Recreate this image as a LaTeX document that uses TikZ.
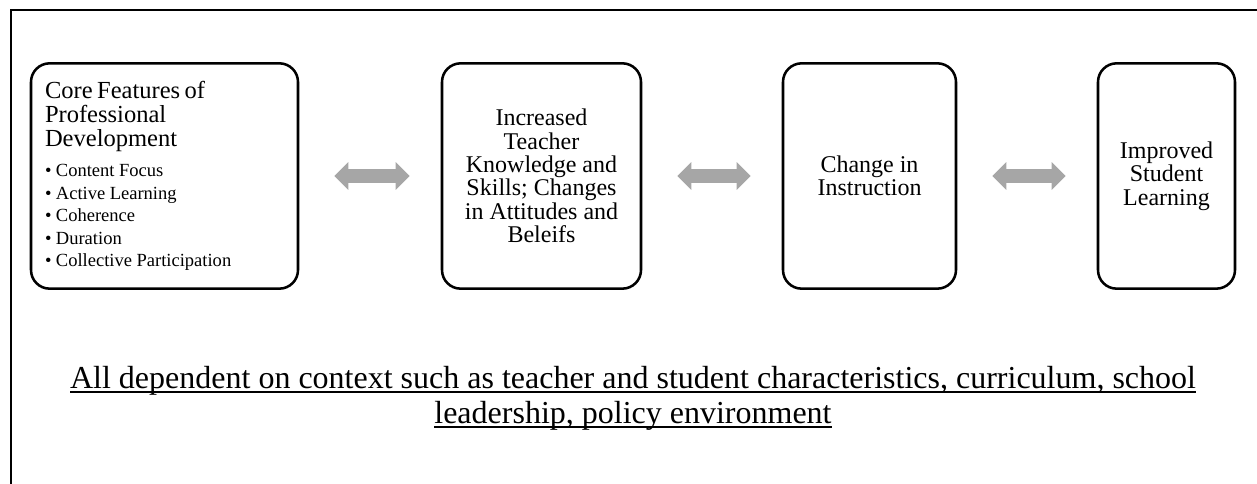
\documentclass[tikz,border=0pt]{standalone}
\usepackage{fontspec}
\setmainfont{Liberation Serif}
\usetikzlibrary{arrows.meta}
\definecolor{arrowgray}{HTML}{A6A6A6}
\newsavebox{\ulbox}
\newcommand{\ulline}[1]{\sbox{\ulbox}{#1}\rlap{\rule[-3.4pt]{\wd\ulbox}{1.6pt}}\usebox{\ulbox}}
\tikzset{
  box/.style={draw=black, line width=1.9pt, rounded corners=14pt, minimum height=169pt, inner sep=0pt},
  boxtext/.style={font=\fontsize{18}{17.5}\selectfont, align=center},
  dblarrow/.style={draw=arrowgray, line width=10.5pt,
    {Triangle[length=10.5pt,width=20.25pt]}-{Triangle[length=10.5pt,width=20.25pt]},
    shorten <=26.25pt, shorten >=23.25pt},
}
\begin{document}
\begin{tikzpicture}[x=0.75pt,y=-0.75pt]
\useasboundingbox (0,0) rectangle (1257,484);
\draw[line width=1.9pt] (11,495) -- (11,10) -- (1265,10);
\node[box, minimum width=200.25pt, text width=179.25pt, align=left] (core) at (164.5,176)
  {{\fontsize{18.4}{18}\selectfont Core Features of\\Professional\\Development\par}\vspace{5.6pt}%
   {\fontsize{13.9}{16.9}\selectfont • Content Focus\\• Active Learning\\• Coherence\\• Duration\\• Collective Participation\par}};
\node[box, boxtext, minimum width=149.25pt] (know) at (541.5,176)
  {Increased\\Teacher\\Knowledge and\\Skills; Changes\\in Attitudes and\\Beleifs};
\node[box, boxtext, minimum width=129.75pt] (instr) at (869.5,176)
  {Change in\\Instruction};
\node[box, boxtext, minimum width=102.75pt] (learn) at (1166.5,176)
  {Improved\\Student\\Learning};
\draw[dblarrow] (core) -- (know);
\draw[dblarrow] (know) -- (instr);
\draw[dblarrow] (instr) -- (learn);
\node[align=center, font=\fontsize{24}{26.25}\selectfont, inner sep=0pt] (context) at (633,398)
  {\ulline{All dependent on context such as teacher and student characteristics, curriculum, school}\\
   \ulline{leadership, policy environment}};
\end{tikzpicture}
\end{document}
